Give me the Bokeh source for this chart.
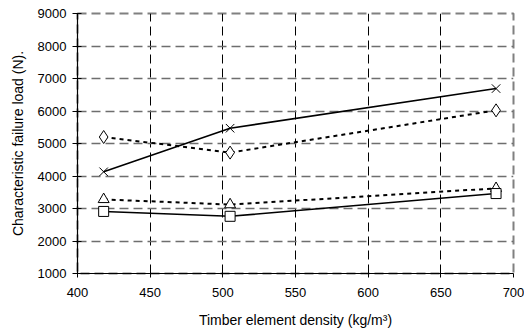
from bokeh.plotting import figure
from bokeh.embed import file_html
from bokeh.resources import INLINE
from bokeh.models import Range1d, FixedTicker

# Data
density = [418, 505, 688]
cross_series = [4130, 5470, 6690]      # solid line, x markers
diamond_series = [5200, 4720, 6020]    # dotted line, diamond markers
triangle_series = [3280, 3120, 3620]   # dotted line, triangle markers
square_series = [2910, 2760, 3460]     # solid line, square markers

x_ticks = [400, 450, 500, 550, 600, 650, 700]
y_ticks = [1000, 2000, 3000, 4000, 5000, 6000, 7000, 8000, 9000]

FONT = "Liberation Sans"

p = figure(width=524, height=335, output_backend="svg", toolbar_location=None,
           x_range=Range1d(400, 700), y_range=Range1d(1000, 9000),
           min_border_left=77, min_border_right=11, min_border_top=13,
           min_border_bottom=62)
p.background_fill_color = "white"
p.border_fill_color = "white"
p.outline_line_color = "#808080"
p.outline_line_dash = "9 5"
p.outline_line_width = 2

p.xgrid.ticker = FixedTicker(ticks=x_ticks)
p.ygrid.ticker = FixedTicker(ticks=y_ticks)
p.xgrid.grid_line_color = "black"
p.xgrid.grid_line_dash = "9 5"
p.xgrid.grid_line_width = 1
p.ygrid.grid_line_color = "#6e6e6e"
p.ygrid.grid_line_dash = "9 5"
p.ygrid.grid_line_width = 1.3

p.xaxis.ticker = FixedTicker(ticks=x_ticks)
p.yaxis.ticker = FixedTicker(ticks=y_ticks)
for ax in (p.xaxis[0], p.yaxis[0]):
    ax.axis_line_color = "black"
    ax.axis_line_width = 1.2
    ax.major_tick_line_color = "black"
    ax.minor_tick_line_color = None
    ax.major_label_text_font = FONT
    ax.major_label_text_font_size = "13px"
    ax.major_label_text_color = "black"
    ax.axis_label_text_font = FONT
    ax.axis_label_text_font_size = "14px"
    ax.axis_label_text_font_style = "normal"
    ax.axis_label_text_color = "black"

p.yaxis.major_tick_out = 5
p.yaxis.major_tick_in = 4
p.yaxis.major_label_standoff = 6
p.yaxis.axis_label = "Characteristic failure load (N)."
p.yaxis.axis_label_standoff = 9

p.xaxis.major_tick_out = 4
p.xaxis.major_tick_in = 0
p.xaxis.major_label_standoff = 10
p.xaxis.axis_label = "Timber element density (kg/m\u00b3)"
p.xaxis.axis_label_standoff = 12

# series
p.line(density, cross_series, line_color="black", line_width=1.6)
p.scatter(density, cross_series, marker="x", size=12, line_color="black", line_width=1)

p.line(density, diamond_series, line_color="black", line_width=2, line_dash="4 4")
p.scatter(density, diamond_series, marker="diamond", size=13, fill_color="white",
          line_color="black", line_width=1)

p.line(density, triangle_series, line_color="black", line_width=2, line_dash="4 4")
p.scatter(density, triangle_series, marker="triangle", size=11, fill_color="white",
          line_color="black", line_width=1)

p.line(density, square_series, line_color="black", line_width=1.6)
p.scatter(density, square_series, marker="square", size=10, fill_color="white",
          line_color="black", line_width=1)

open("out.html", "w").write(file_html(p, INLINE))
